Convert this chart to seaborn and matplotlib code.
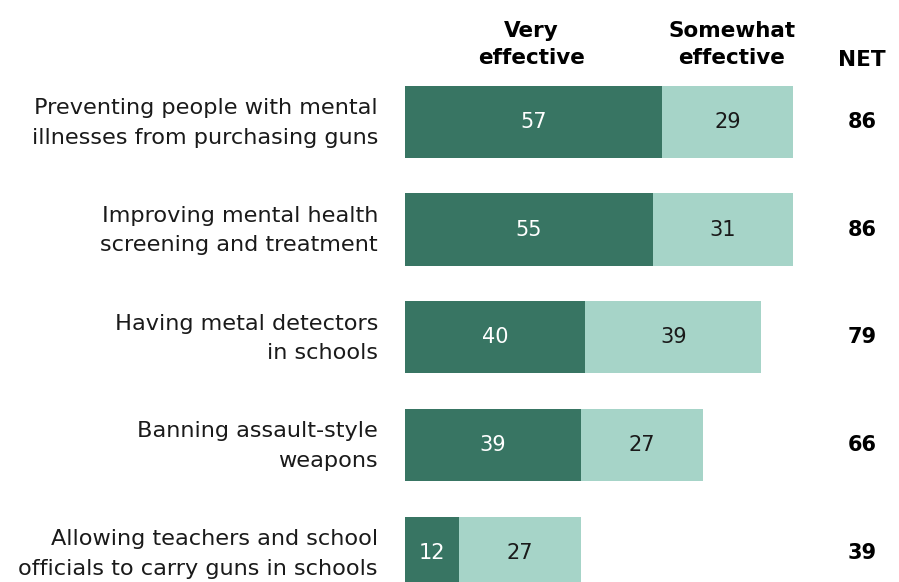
import matplotlib
matplotlib.use("Agg")
import matplotlib.pyplot as plt
import seaborn as sns
import pandas as pd

categories = [
    "Preventing people with mental\nillnesses from purchasing guns",
    "Improving mental health\nscreening and treatment",
    "Having metal detectors\nin schools",
    "Banning assault-style\nweapons",
    "Allowing teachers and school\nofficials to carry guns in schools",
]
very = [57, 55, 40, 39, 12]
somewhat = [29, 31, 39, 27, 27]
net = [86, 86, 79, 66, 39]

dark = "#387563"
light = "#a6d4c8"

sns.set_theme(style="white")
plt.rcParams["font.family"] = ["DejaVu Sans"]

df = pd.DataFrame({"cat": categories, "very": very, "somewhat": somewhat, "net": net})

fig = plt.figure(figsize=(8.99, 5.82), dpi=100)
ax = fig.add_axes([405 / 899, 0, 451 / 899, 1])

sns.barplot(data=df, x="net", y="cat", color=light, width=0.67, saturation=1,
            linewidth=0, ax=ax)
sns.barplot(data=df, x="very", y="cat", color=dark, width=0.67, saturation=1,
            linewidth=0, ax=ax)

ax.set_xlim(0, 100)
ax.set_ylim(4.27, -1.13)
ax.set_xlabel("")
ax.set_ylabel("")
ax.set_xticks([])
ax.set_yticks([])
sns.despine(ax=ax, left=True, bottom=True)

# category labels drawn as text so the line spacing sticks
ytrans = ax.get_yaxis_transform()
for i, cat in enumerate(categories):
    ax.text(-0.06, i + 0.01, cat, transform=ytrans, ha="right", va="center",
            fontsize=16.1, linespacing=1.6, color="#1a1a1a", clip_on=False)

for i, row in df.iterrows():
    ax.text(row["very"] / 2, i, str(row["very"]), ha="center", va="center",
            color="white", fontsize=15)
    ax.text(row["very"] + row["somewhat"] / 2, i, str(row["somewhat"]),
            ha="center", va="center", color="#1a1a1a", fontsize=15)
    ax.text(101.3, i, str(row["net"]), ha="center", va="center",
            color="black", fontsize=15, fontweight="bold", clip_on=False)

hdr = dict(ha="center", va="center", fontsize=15.5, fontweight="bold",
           color="black", linespacing=1.45, clip_on=False)
ax.text(28, -0.72, "Very\neffective", **hdr)
ax.text(72.5, -0.72, "Somewhat\neffective", **hdr)
ax.text(101.3, -0.57, "NET", **hdr)

fig.savefig("out.png", dpi=100)
